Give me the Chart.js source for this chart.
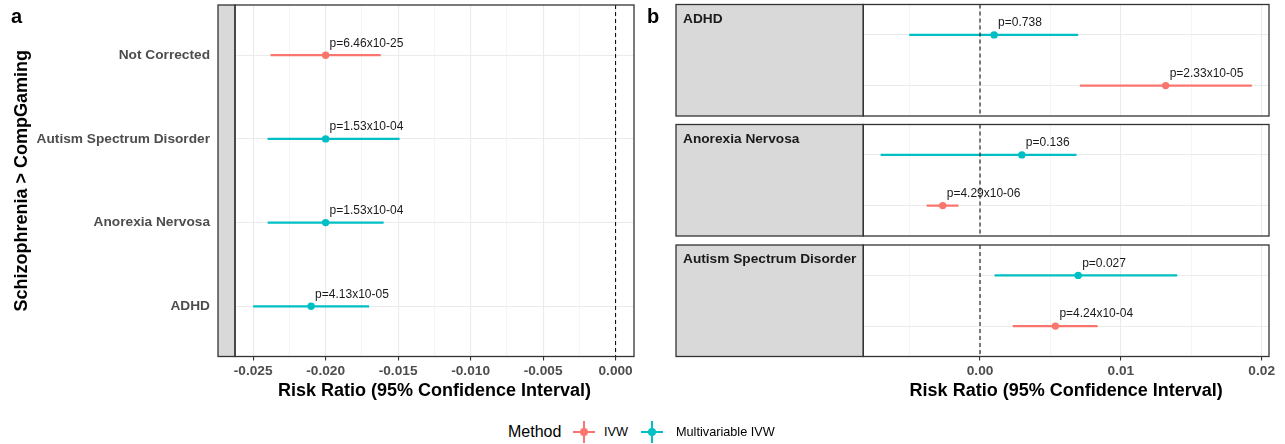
<!DOCTYPE html>
<html>
<head>
<meta charset="utf-8">
<script src="https://cdn.jsdelivr.net/npm/chart.js@4.4.1/dist/chart.umd.min.js"></script>
<style>
  body { margin: 0; background: #fff; width: 1285px; height: 444px; position: relative; overflow: hidden;
         font-family: 'Liberation Sans', Arial, Helvetica, sans-serif; }
  canvas { position: absolute; }
  .tag { position: absolute; font-weight: bold; font-size: 20px; line-height: 20px; color: #000; }
  .leg { position: absolute; top: 422px; height: 20px; line-height: 20px; color: #000; white-space: nowrap; }
  .key { position: absolute; top: 421px; width: 22px; height: 22px; }
  .key .h { position: absolute; left: 0; top: 10px; width: 22px; height: 2px; }
  .key .v { position: absolute; left: 10px; top: 0; width: 2px; height: 22px; }
  .key .d { position: absolute; left: 7px; top: 7px; width: 8px; height: 8px; border-radius: 50%; }
</style>
</head>
<body>
<canvas id="chartA" width="645" height="402" style="left:0;top:0"></canvas>
<canvas id="chartB1" width="645" height="120" style="left:640px;top:0"></canvas>
<canvas id="chartB2" width="645" height="120" style="left:640px;top:120px"></canvas>
<canvas id="chartB3" width="645" height="162" style="left:640px;top:240px"></canvas>

<div class="tag" style="left:11px;top:6px">a</div>
<div class="tag" style="left:647px;top:6px">b</div>

<div class="leg" style="left:508px;font-size:16px">Method</div>
<div class="key" style="left:573px"><div class="h" style="background:#F8766D"></div><div class="v" style="background:#F8766D"></div><div class="d" style="background:#F8766D"></div></div>
<div class="leg" style="left:604px;font-size:12.7px">IVW</div>
<div class="key" style="left:641px"><div class="h" style="background:#00BFC4"></div><div class="v" style="background:#00BFC4"></div><div class="d" style="background:#00BFC4"></div></div>
<div class="leg" style="left:676px;font-size:12.7px">Multivariable IVW</div>

<script>
// panel a: Schizophrenia > CompGaming, bottom row first
const aCategories = ['ADHD', 'Anorexia Nervosa', 'Autism Spectrum Disorder', 'Not Corrected'];
const aMethod = ['Multivariable IVW', 'Multivariable IVW', 'Multivariable IVW', 'IVW'];
const aEstimate = [-0.0210, -0.0200, -0.0200, -0.0200];
const aLower = [-0.0250, -0.0240, -0.0240, -0.0238];
const aUpper = [-0.0170, -0.0160, -0.0149, -0.0162];
const aPvalue = ['p=4.13x10-05', 'p=1.53x10-04', 'p=1.53x10-04', 'p=6.46x10-25'];
const aTicks = [-0.025, -0.020, -0.015, -0.010, -0.005, 0.000];
const aTickLabels = ['-0.025', '-0.020', '-0.015', '-0.010', '-0.005', '0.000'];
const aMinorTicks = [-0.0225, -0.0175, -0.0125, -0.0075, -0.0025];

// panel b: one facet per exposure
const bFacets = ['ADHD', 'Anorexia Nervosa', 'Autism Spectrum Disorder'];
const bMethods = ['IVW', 'Multivariable IVW'];
const ivwEstimate = [0.01318, -0.00265, 0.00535];
const ivwLower = [0.00709, -0.00379, 0.00232];
const ivwUpper = [0.01930, -0.00153, 0.00835];
const ivwPvalue = ['p=2.33x10-05', 'p=4.29x10-06', 'p=4.24x10-04'];
const mvEstimate = [0.00100, 0.00297, 0.00697];
const mvLower = [-0.00503, -0.00706, 0.00103];
const mvUpper = [0.00697, 0.00685, 0.01400];
const mvPvalue = ['p=0.738', 'p=0.136', 'p=0.027'];
const bTicks = [0.00, 0.01, 0.02];
const bTickLabels = ['0.00', '0.01', '0.02'];
const bMinorTicks = [-0.005, 0.005, 0.015];

const methodColors = { 'IVW': '#F8766D', 'Multivariable IVW': '#00BFC4' };
const FONT = "'Liberation Sans', Arial, Helvetica, sans-serif";

function forestChart(id, rows, o) {
    const datasets = [];
    rows.forEach(r => {
        const c = methodColors[r.method];
        // confidence interval
        datasets.push({ data: [{ x: r.lo, y: r.y }, { x: r.hi, y: r.y }], showLine: true,
            borderColor: c, borderWidth: 2.3, pointRadius: 0 });
        // estimate
        datasets.push({ data: [{ x: r.est, y: r.y }], backgroundColor: c, borderColor: c,
            borderWidth: 0, pointRadius: 3.7 });
    });
    const allTicks = o.major.concat(o.minor).sort((a, b) => a - b);
    const isMajor = v => o.major.some(m => Math.abs(m - v) < 1e-9);

    const decor = {
        id: 'decor',
        afterDatasetsDraw(chart) {
            const { ctx, chartArea: ca, scales: { x, y } } = chart;
            ctx.save();
            const x0 = x.getPixelForValue(0);
            ctx.strokeStyle = '#000';
            ctx.lineWidth = 1;
            ctx.setLineDash([4, 3]);
            ctx.beginPath();
            ctx.moveTo(x0, ca.top);
            ctx.lineTo(x0, ca.bottom);
            ctx.stroke();
            ctx.setLineDash([]);
            ctx.fillStyle = '#1a1a1a';
            ctx.font = '12px ' + FONT;
            ctx.textAlign = 'left';
            ctx.textBaseline = 'middle';
            rows.forEach(r => ctx.fillText(r.p, x.getPixelForValue(r.est) + 4, y.getPixelForValue(r.y) - 12));
            ctx.restore();
        },
        afterDraw(chart) {
            const { ctx, chartArea: ca } = chart;
            ctx.save();
            ctx.fillStyle = '#D9D9D9';
            ctx.strokeStyle = '#333';
            ctx.lineWidth = 1.3;
            ctx.fillRect(o.stripLeft, ca.top, ca.left - o.stripLeft, ca.bottom - ca.top);
            ctx.strokeRect(o.stripLeft, ca.top, ca.left - o.stripLeft, ca.bottom - ca.top);
            ctx.strokeRect(ca.left, ca.top, ca.right - ca.left, ca.bottom - ca.top);
            if (o.stripText) {
                ctx.fillStyle = '#1A1A1A';
                ctx.font = 'bold 13.7px ' + FONT;
                ctx.textAlign = 'left';
                ctx.textBaseline = 'alphabetic';
                ctx.fillText(o.stripText, o.stripLeft + 7, ca.top + 18);
            }
            ctx.restore();
        }
    };

    return new Chart(document.getElementById(id), {
        type: 'scatter',
        data: { datasets: datasets },
        options: {
            responsive: false,
            animation: false,
            devicePixelRatio: 1,
            layout: { padding: o.padding },
            plugins: { legend: { display: false }, tooltip: { enabled: false } },
            scales: {
                x: {
                    type: 'linear',
                    min: o.xMin,
                    max: o.xMax,
                    afterBuildTicks: s => { s.ticks = allTicks.map(v => ({ value: v })); },
                    afterFit: s => {
                        s.height = o.xHeight;
                        s.paddingLeft = 0; s.paddingRight = 0;
                    },
                    border: { display: false },
                    grid: {
                        color: c => (c.tick && isMajor(c.tick.value)) ? '#EBEBEB' : '#F3F3F3',
                        lineWidth: c => (c.tick && isMajor(c.tick.value)) ? 1.1 : 0.8,
                        drawTicks: o.showX,
                        tickLength: 4,
                        tickColor: c => (c.tick && isMajor(c.tick.value)) ? '#333' : 'rgba(0,0,0,0)'
                    },
                    ticks: {
                        display: o.showX,
                        autoSkip: false,
                        maxRotation: 0,
                        padding: 3,
                        color: '#4D4D4D',
                        font: { family: FONT, size: 13.7, weight: 'bold' },
                        callback: v => {
                            const i = o.major.findIndex(m => Math.abs(m - v) < 1e-9);
                            return i < 0 ? '' : o.majorLabels[i];
                        }
                    },
                    title: {
                        display: o.showX,
                        text: 'Risk Ratio (95% Confidence Interval)',
                        color: '#000',
                        font: { family: FONT, size: 18, weight: 'bold' },
                        padding: 0
                    }
                },
                y: {
                    type: 'linear',
                    min: 0.4,
                    max: o.yLabels.length + 0.6,
                    afterBuildTicks: s => { s.ticks = o.yLabels.map((_, i) => ({ value: i + 1 })); },
                    afterFit: s => {
                        s.width = o.yWidth;
                        // the label gap must not push the plot down
                        s.paddingTop = 0; s.paddingBottom = 0;
                    },
                    border: { display: false },
                    grid: { color: '#EBEBEB', lineWidth: 1.1, drawTicks: false },
                    ticks: {
                        display: o.showY,
                        padding: 25,
                        color: '#4D4D4D',
                        font: { family: FONT, size: 13.7, weight: 'bold' },
                        callback: v => o.yLabels[v - 1] || ''
                    },
                    title: {
                        display: !!o.yTitle,
                        text: o.yTitle || '',
                        color: '#000',
                        font: { family: FONT, size: 18, weight: 'bold' },
                        padding: { top: 11, bottom: 0 }
                    }
                }
            }
        },
        plugins: [decor]
    });
}

// panel a
const aRows = aCategories.map((c, i) => ({
    y: i + 1, est: aEstimate[i], lo: aLower[i], hi: aUpper[i], p: aPvalue[i], method: aMethod[i]
}));
forestChart('chartA', aRows, {
    xMin: -0.02625, xMax: 0.00127,
    major: aTicks, majorLabels: aTickLabels, minor: aMinorTicks,
    yLabels: aCategories, showY: true, showX: true, yTitle: 'Schizophrenia > CompGaming',
    yWidth: 235, xHeight: 45.5, stripLeft: 218,
    padding: { top: 5, right: 11, bottom: 0, left: 0 }
});

// panel b facets
const facetLayout = [
    { id: 'chartB1', padding: { top: 4.5, right: 16, bottom: 4, left: 0 }, xHeight: 0, showX: false },
    { id: 'chartB2', padding: { top: 4.5, right: 16, bottom: 4, left: 0 }, xHeight: 0, showX: false },
    { id: 'chartB3', padding: { top: 5, right: 16, bottom: 0, left: 0 }, xHeight: 45.5, showX: true }
];
bFacets.forEach((f, i) => {
    const rows = [
        { y: 1, est: ivwEstimate[i], lo: ivwLower[i], hi: ivwUpper[i], p: ivwPvalue[i], method: bMethods[0] },
        { y: 2, est: mvEstimate[i], lo: mvLower[i], hi: mvUpper[i], p: mvPvalue[i], method: bMethods[1] }
    ];
    const L = facetLayout[i];
    forestChart(L.id, rows, {
        xMin: -0.00829, xMax: 0.02052,
        major: bTicks, majorLabels: bTickLabels, minor: bMinorTicks,
        yLabels: bMethods, showY: false, showX: L.showX,
        yWidth: 223.3, xHeight: L.xHeight, stripLeft: 36, stripText: f,
        padding: L.padding
    });
});
</script>
</body>
</html>
